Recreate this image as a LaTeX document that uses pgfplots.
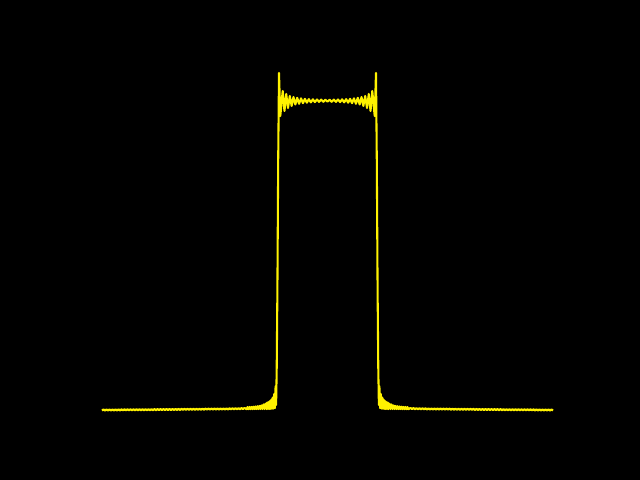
\documentclass[border=0pt]{standalone}
\usepackage{pgfplots}
\pgfplotsset{compat=1.18}
\begin{document}
\begin{tikzpicture}
\fill[black] (0,0) rectangle (6.4in,4.8in);
\begin{axis}[
  at={(0,0)}, anchor=south west,
  scale only axis, width=6.4in, height=4.8in,
  xmin=-327.5, xmax=312.5, ymin=-70, ymax=410,
  hide axis, clip=false,
]
\addplot[color=yellow, line width=1.5pt, line join=round] coordinates {
(-225.5,-0.55) (-224,0.56) (-222.5,-0.53) (-221,0.58) (-219.5,-0.51) (-218,0.6) (-216.5,-0.49) (-215,0.62) (-213.5,-0.47) (-212,0.64) (-210.5,-0.45) (-209,0.66) (-207.5,-0.43) (-206,0.68) (-204.5,-0.41) (-203,0.7) (-201.5,-0.39) (-200,0.72) (-198.5,-0.37) (-197,0.74) (-195.5,-0.35) (-194,0.76) (-192.5,-0.33) (-191,0.78) (-189.5,-0.31) (-188,0.8) (-186.5,-0.29) (-185,0.82) (-183.5,-0.27) (-182,0.84) (-180.5,-0.25) (-179,0.86) (-177.5,-0.23) (-176,0.89) (-174.5,-0.2) (-173,0.92) (-171.5,-0.17) (-170,0.95) (-168.5,-0.14) (-167,0.98) (-165.5,-0.1) (-164,1.01) (-162.5,-0.08) (-161,1.04) (-159.5,-0.05) (-158,1.07) (-156.5,-0.02) (-155,1.1) (-153.5,0.02) (-152,1.13) (-150.5,0.05) (-149,1.16) (-147.5,0.08) (-146,1.19) (-144.5,0.11) (-143,1.22) (-141.5,0.14) (-140,1.25) (-138.5,0.17) (-137,1.28) (-135.5,0.2) (-134,1.31) (-132.5,0.23) (-131,1.34) (-129.5,0.26) (-128,1.37) (-126.5,0.29) (-125,1.4) (-123.5,0.32) (-122,1.43) (-120.5,0.35) (-119,1.46) (-117.5,0.38) (-116,1.49) (-114.5,0.41) (-113,1.52) (-111.5,0.44) (-110,1.55) (-108.5,0.47) (-107,1.58) (-105.5,0.5) (-104,1.61) (-102.5,0.53) (-101,1.64) (-99.5,0.56) (-98,1.69) (-96.5,0.62) (-95,1.75) (-93.5,0.68) (-92,1.82) (-90.5,0.75) (-89,1.88) (-87.5,0.81) (-86,1.94) (-84.5,0.87) (-83,2.1)
(-81,0.8) (-80,2.9) (-79,0.8) (-78,3.0) (-77,0.85) (-76,3.1) (-75,0.85) (-74,3.3) (-73,0.9) (-72,3.5) (-71,0.9) (-70,3.8) (-69,0.95) (-68,4.1) (-67,0.95) (-66,4.6) (-65,1.0) (-64,5.5) (-63,1.0) (-62,6.3) (-61,1.0) (-60.3,7.5) (-59.6,1.0) (-58.9,8.0) (-58.2,1.0) (-57.5,9.0) (-56.8,1.1) (-56.1,10.5) (-55.4,1.2) (-54.7,12.5) (-54.0,1.5) (-53.3,16) (-52.6,1.9) (-51.9,24) (-51.4,5)
(-50.8,40) (-50.1,120) (-49.3,250)
(-48.5,337) (-47.2,294) (-44.8,319) (-43.05,299) (-41.28,316) (-39.5,302) (-37.69,314) (-35.87,304) (-34.03,313) (-32.17,305.5) (-30.29,312.2) (-28.4,306.2) (-26.48,311.7) (-24.55,306.8) (-22.6,311.2) (-20.63,307.3) (-18.65,310.9) (-16.64,307.6) (-14.62,310.7) (-12.58,307.9) (-10.52,310.5) (-8.44,308.1) (-6.35,310.4) (-4.23,308.2) (-2.1,310.3)
(0,308.3)
(2.1,310.3) (4.23,308.2) (6.35,310.4) (8.44,308.1) (10.52,310.5) (12.58,307.9) (14.62,310.7) (16.64,307.6) (18.65,310.9) (20.63,307.3) (22.6,311.2) (24.55,306.8) (26.48,311.7) (28.4,306.2) (30.29,312.2) (32.17,305.5) (34.03,313) (35.87,304) (37.69,314) (39.5,302) (41.28,316) (43.05,299) (44.8,319) (47.2,294) (48.5,337)
(49.3,250) (50.1,120) (50.8,40)
(51.4,5) (51.9,24) (52.6,1.9) (53.3,16) (54.0,1.5) (54.7,12.5) (55.4,1.2) (56.1,10.5) (56.8,1.1) (57.5,9.0) (58.2,1.0) (58.9,8.0) (59.6,1.0) (60.3,7.5) (61,1.0) (62,6.3) (63,1.0) (64,5.5) (65,1.0) (66,4.6) (67,0.95) (68,4.1) (69,0.95) (70,3.8) (71,0.9) (72,3.5) (73,0.9) (74,3.3) (75,0.85) (76,3.1) (77,0.85) (78,3.0) (79,0.8) (80,2.9) (81,0.8)
(83,2.1) (84.5,0.87) (86,1.94) (87.5,0.81) (89,1.88) (90.5,0.75) (92,1.82) (93.5,0.68) (95,1.75) (96.5,0.62) (98,1.69) (99.5,0.56) (101,1.64) (102.5,0.53) (104,1.61) (105.5,0.5) (107,1.58) (108.5,0.47) (110,1.55) (111.5,0.44) (113,1.52) (114.5,0.41) (116,1.49) (117.5,0.38) (119,1.46) (120.5,0.35) (122,1.43) (123.5,0.32) (125,1.4) (126.5,0.29) (128,1.37) (129.5,0.26) (131,1.34) (132.5,0.23) (134,1.31) (135.5,0.2) (137,1.28) (138.5,0.17) (140,1.25) (141.5,0.14) (143,1.22) (144.5,0.11) (146,1.19) (147.5,0.08) (149,1.16) (150.5,0.05) (152,1.13) (153.5,0.02) (155,1.1) (156.5,-0.02) (158,1.07) (159.5,-0.05) (161,1.04) (162.5,-0.08) (164,1.01) (165.5,-0.1) (167,0.98) (168.5,-0.14) (170,0.95) (171.5,-0.17) (173,0.92) (174.5,-0.2) (176,0.89) (177.5,-0.23) (179,0.86) (180.5,-0.25) (182,0.84) (183.5,-0.27) (185,0.82) (186.5,-0.29) (188,0.8) (189.5,-0.31) (191,0.78) (192.5,-0.33) (194,0.76) (195.5,-0.35) (197,0.74) (198.5,-0.37) (200,0.72) (201.5,-0.39) (203,0.7) (204.5,-0.41) (206,0.68) (207.5,-0.43) (209,0.66) (210.5,-0.45) (212,0.64) (213.5,-0.47) (215,0.62) (216.5,-0.49) (218,0.6) (219.5,-0.51) (221,0.58) (222.5,-0.53) (224,0.56) (225.5,-0.55)
};
\end{axis}
\end{tikzpicture}
\end{document}
